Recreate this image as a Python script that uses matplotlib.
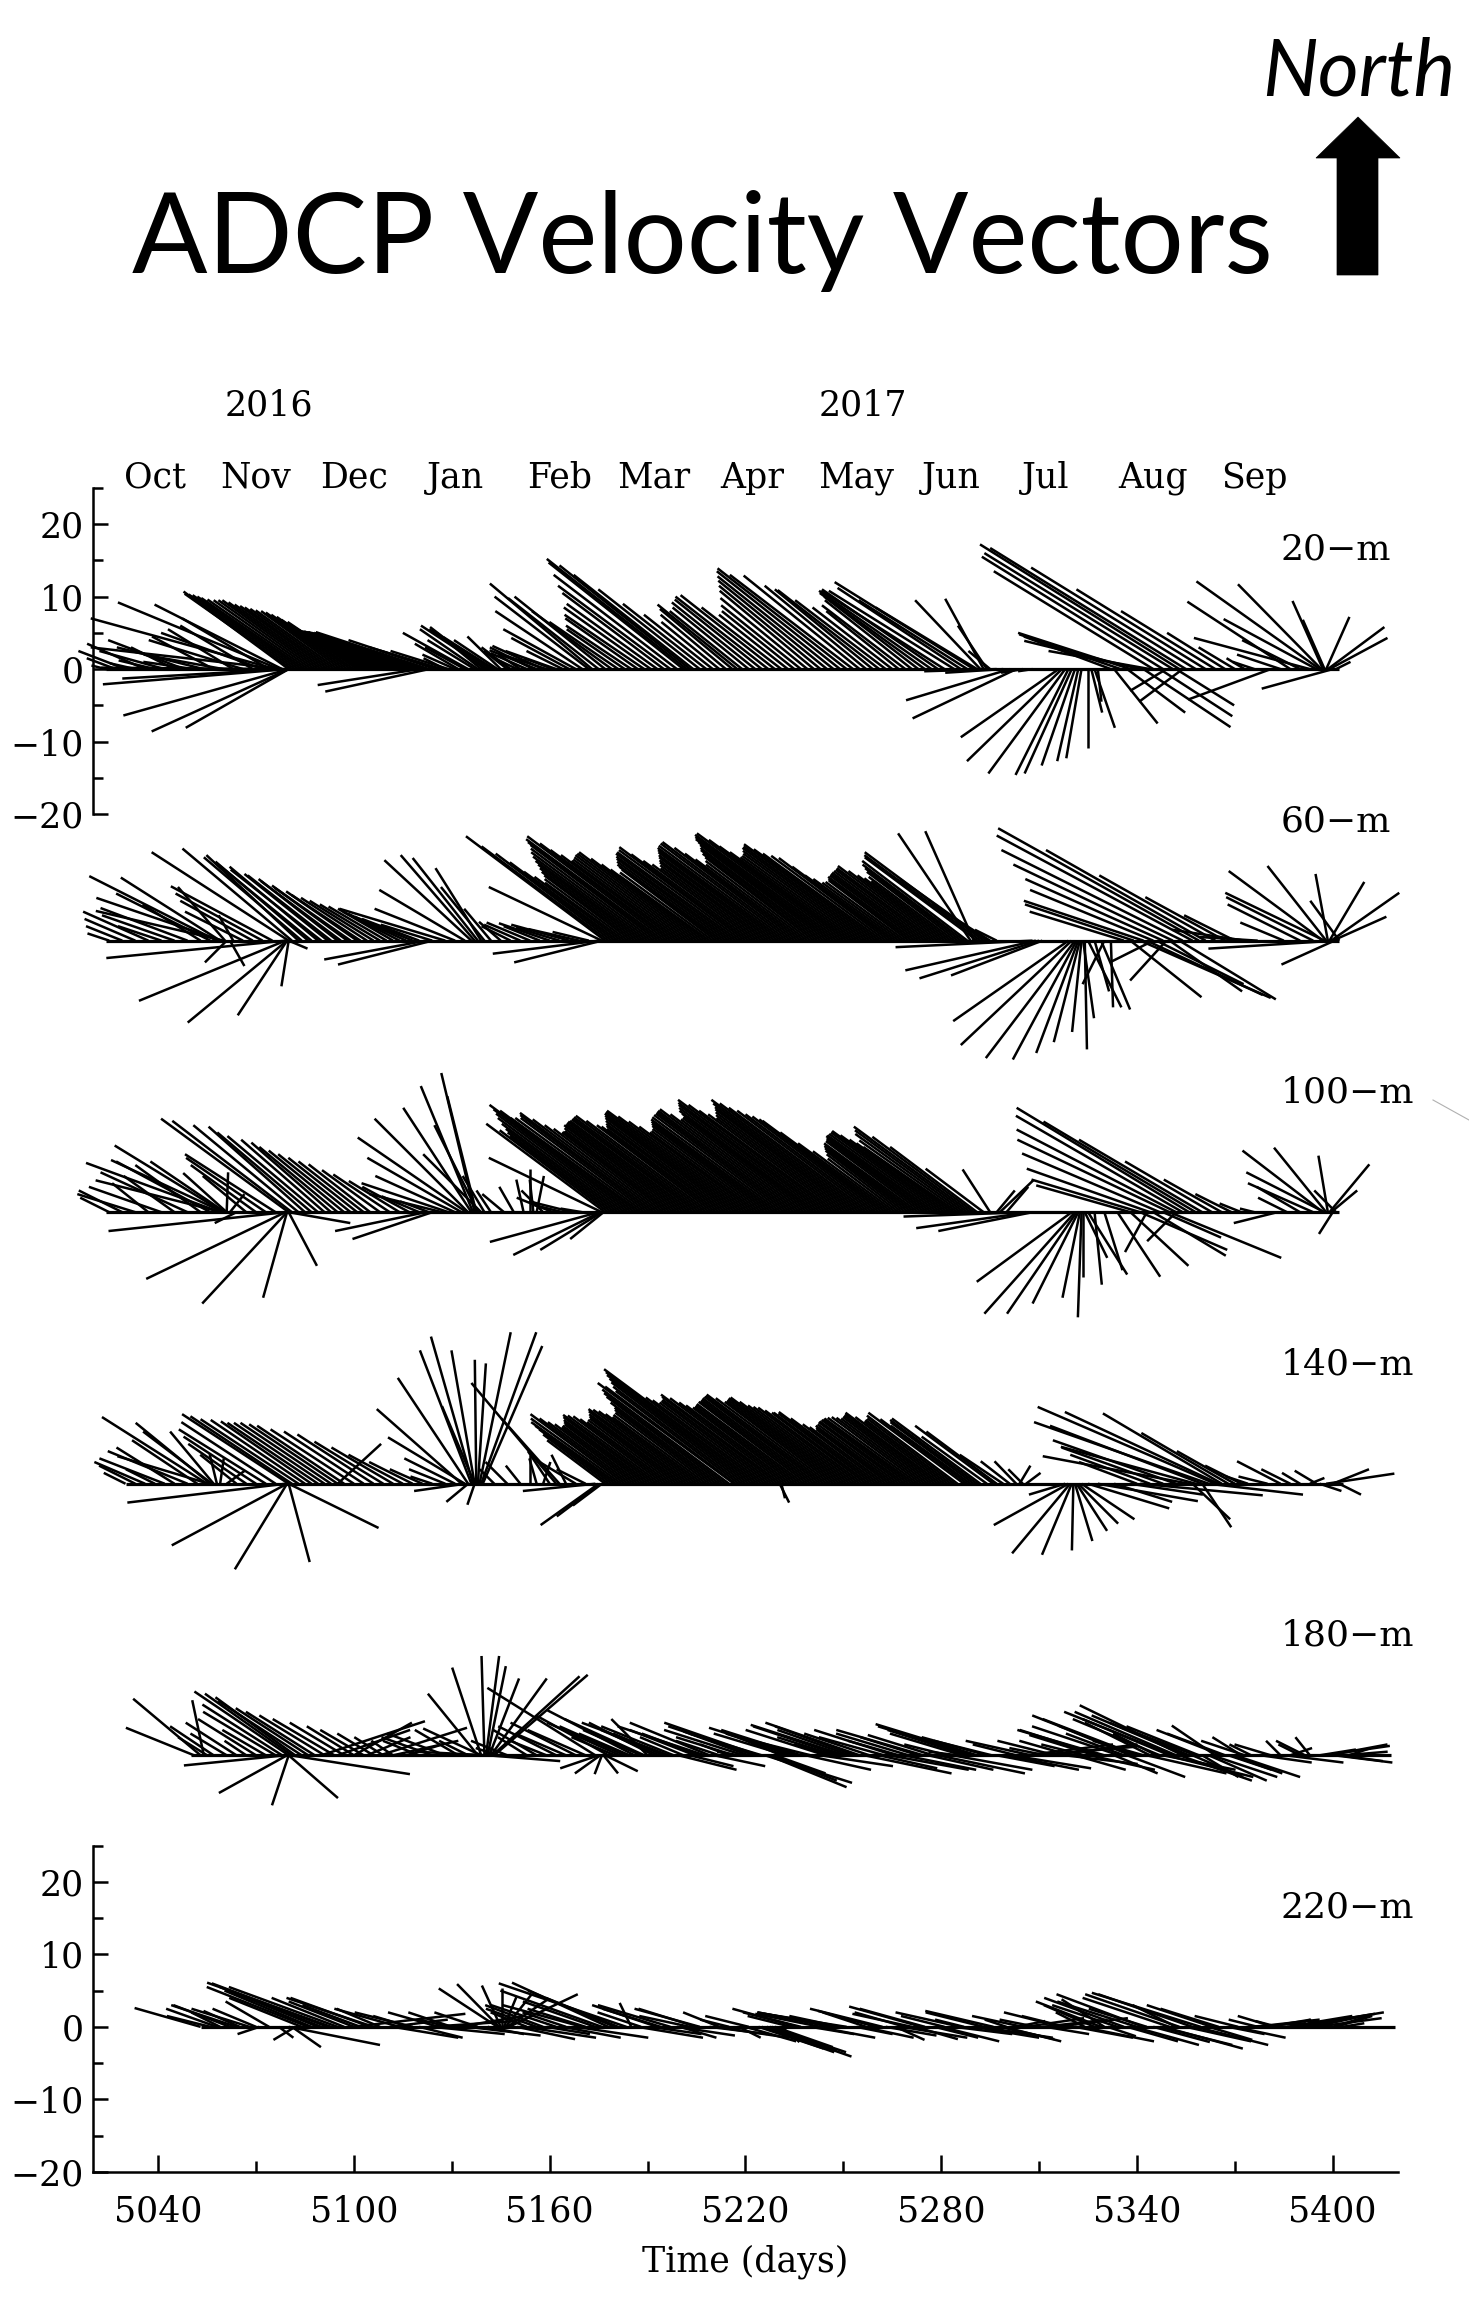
import sys
import matplotlib
matplotlib.use('Agg')
import matplotlib.pyplot as plt
from matplotlib.collections import LineCollection
from matplotlib.patches import Polygon
from matplotlib.lines import Line2D

plt.rcParams['font.family'] = ['DejaVu Serif']

# ---------------- data: stick origins (days) and velocity components (cm/s) ----------------
T20 = [5024, 5027, 5030, 5033, 5036, 5039, 5042, 5045, 5048, 5051,
       5054, 5057, 5060, 5063, 5066, 5069, 5072, 5074,
       5076, 5077, 5078, 5078, 5079, 5079, 5079.5, 5080, 5080, 5080,
       5080, 5081, 5083, 5085, 5087, 5089, 5091, 5093, 5095, 5097,
       5099, 5101, 5103, 5105, 5107, 5109, 5111, 5113, 5115, 5117,
       5119, 5121, 5123, 5125, 5126, 5120, 5123,
       5128, 5131, 5134, 5137, 5139, 5141, 5143, 5145, 5147, 5150,
       5153, 5156, 5159, 5162,
       5164, 5166, 5168, 5170, 5172, 5173, 5175, 5177, 5179, 5181,
       5183, 5185, 5187, 5189, 5191, 5193, 5195, 5197, 5199, 5201,
       5202, 5203, 5204, 5206, 5208, 5210, 5212, 5214, 5216, 5217.5,
       5219, 5221, 5223, 5225, 5227, 5229, 5231, 5233, 5235, 5237,
       5239, 5241, 5243, 5245, 5247, 5249, 5251, 5253, 5255, 5257,
       5259, 5261, 5263, 5265, 5267, 5269, 5271, 5273, 5275, 5277,
       5279, 5281, 5284, 5286, 5288, 5290, 5291, 5292, 5293, 5294,
       5295,
       5297, 5299, 5301, 5303, 5305, 5308,
       5316, 5317, 5318, 5319, 5320, 5321, 5322, 5323, 5325, 5326, 5327, 5328,
       5332, 5335, 5338, 5341, 5344,
       5333, 5337, 5342, 5347, 5352, 5349, 5354,
       5345, 5348, 5351, 5353, 5355, 5358, 5361, 5364, 5367, 5370, 5373, 5376,
       5381, 5384, 5387, 5390, 5393, 5395, 5396, 5396.5, 5397, 5397.5, 5398, 5398.5, 5399, 5400, 5401,
       5082, 5084, 5086, 5088, 5090, 5092, 5094, 5096, 5098,
       5100, 5102, 5104, 5106, 5108, 5110, 5112, 5114, 5116, 5118, 5120, 5122,
       5127, 5129, 5132, 5135, 5138, 5140, 5142, 5144, 5148, 5151, 5155, 5158, 5161]
U20 = [-2, -4, -6.5, -3.5, -8, -5, -9, -6, -10.5, -7,
       -12, -8.5, -11, -9, -13, -10, -14, -12,
       -25.5, -22.2, -17.6, -26.4, -25.4, -22.5, -25.4, -22.8, -18.9, -14.2,
       -14.5, -14.8, -14.6, -14.3, -13.5, -13.2, -12.4, -11.9, -11.3, -10.8,
       -10.2, -9.6, -10.0, -10.5, -11.2, -11.8, -12.5, -13.0, -13.6, -14.2,
       -14.8, -15.3, -15.6, -12.0, -8.0, -14.0, -14.3,
       -3, -4.5, -5.5, -6.5, -6.1, -9.2, -7, -4.6, -3.2, -2.5,
       -5, -6.5, -5.5, -7,
       -5, -8, -10, -12, -13, -14.1, -12.5, -12.5, -11, -9.5,
       -8, -9, -10, -11, -12, -12.5, -14, -15.5, -17, -18.6,
       -19.3, -18, -16.5, -14, -11.5, -9.5, -8, -9, -10, -11,
       -10, -10.5, -11.5, -12, -12.8, -13, -11, -9.5, -10, -11,
       -12, -13, -14, -15, -16, -17, -17.8, -17, -16, -14,
       -13.5, -14, -12.5, -11, -10, -11.5, -12, -13, -14.5, -15.5,
       -16, -17, -17.3, -17, -15, -19.2, -14, -9, -5.3, -4,
       -3,
       -10, -8, -14.3, -14.3, -3, -2,
       -13.5, -13.1, -10.6, -7.3, -6.5, -4.6, -2.9, -2.1, 0.0, 1.5, 2.8, 0.5,
       -12, -14, -15.5, -16, -14,
       6, 8, 12, 10, 8, -5, -6,
       -22, -25, -26, -27.5, -27, -22.7, -17.8, -13, -8, -5, -2.5, -3,
       -11.4, -6, -14.2, -8, -16, -12.8, -17, -11.5, -4.2, -3, 3.2, 7.8, 8, -9.8, 2,
       -14.7, -14.4, -13.9, -13.3, -12.8, -12.1, -11.6, -11.0, -10.5,
       -10.0, -9.8, -10.2, -10.8, -11.5, -12.2, -12.8, -13.3, -14.0, -14.5, -15.0, -15.4,
       -10, -8, -6, -9, -8, -7.5, -8.5, -6, -4, -3, -6, -7, -4]
V20 = [0.5, 1.5, 2.5, 0.8, 3.5, 1.2, 2.5, 3.0, 4.0, 1.0,
       3.0, 4.5, 2.0, 5.5, 4.0, 6.0, 5.0, 7.0,
       7.0, 9.2, 8.9, 3.0, 0.2, -1.3, -2.1, -6.4, -8.6, -8.1,
       10.7, 10.4, 10.2, 9.8, 9.5, 9.5, 8.9, 8.5, 8.1, 7.8,
       7.2, 6.5, 5.9, 5.6, 5.5, 5.4, 5.3, 5.2, 5.2, 5.1,
       5.1, 5.0, 5.1, 4.0, 2.5, -2.2, -3.1,
       1.5, 2.0, 3.0, 4.0, 5.0, 6.0, 4.4, 4.5, 2.5, 1.2,
       2.2, 2.6, 1.8, 2.5,
       2.5, 4.3, 5.5, 8.0, 10.0, 11.8, 9.8, 10.0, 8.0, 6.5,
       5.5, 6.0, 7.0, 7.5, 8.5, 9.0, 10.5, 11.5, 13.0, 14.7,
       15.2, 14.3, 13.0, 11.0, 9.0, 7.5, 6.5, 7.5, 8.3, 8.9,
       8.0, 8.5, 9.2, 9.6, 10.0, 10.2, 8.5, 7.5, 8.0, 8.8,
       9.8, 10.8, 11.5, 12.2, 12.8, 13.5, 13.9, 13.0, 12.9, 11.5,
       11.0, 10.9, 9.5, 8.5, 8.0, 8.8, 9.5, 10.0, 10.5, 10.8,
       11.0, 10.8, 10.8, 11.2, 9.5, 12.0, 8.5, 9.5, 9.7, 6.0,
       2.5,
       -0.3, -0.5, -4.3, -6.8, -0.5, -0.3,
       -9.4, -12.7, -14.4, -14.6, -14.4, -13.3, -12.7, -12.3, -10.9, -6.0, -8.1, -4.5,
       4.5, 4.8, 5.0, 3.9, 2.5,
       -7.5, -6, -8, -6.5, -5, -3, -4.5,
       13.5, 15.5, 16.0, 17.2, 16.7, 14.0, 11.0, 8.0, 5.0, 3.0, 1.5, 1.0,
       -4.2, 2.0, 9.3, 4.0, 4.3, 6.9, 12.1, 11.7, 9.4, 6.8, 7.2, 5.8, 4.3, -2.7, 1.0,
       10.3, 10.0, 9.6, 9.5, 9.2, 8.7, 8.3, 8.0, 7.5,
       6.8, 6.2, 5.8, 5.5, 5.4, 5.3, 5.2, 5.2, 5.1, 5.1, 5.0, 5.0,
       3.0, 2.5, 3.5, 5.0, 5.5, 5.8, 5.5, 4.0, 3.0, 2.0, 3.0, 3.2, 1.5]

T60 = [5025, 5029, 5033, 5037, 5041, 5045, 5049, 5053, 5056, 5058, 5059, 5059.5, 5060, 5060.5, 5061, 5062, 5063, 5066, 5069, 5072, 5075,
       5079, 5079, 5079.5, 5079.5, 5080, 5080, 5080,
       5081, 5083, 5086, 5089, 5092, 5095, 5098, 5101, 5104, 5108, 5112, 5116, 5120, 5124, 5122, 5124,
       5084, 5087, 5090, 5093, 5096, 5099, 5102, 5106, 5110, 5114, 5118,
       5128, 5131, 5134, 5136, 5137, 5138, 5139, 5140, 5142, 5145, 5148, 5151, 5154, 5157, 5160, 5163, 5166, 5169, 5172, 5175, 5176,
       5176, 5177, 5179, 5181, 5183, 5185, 5187, 5189, 5191, 5193,
       5195, 5196, 5198, 5200, 5202, 5204, 5205, 5207, 5209, 5211,
       5213, 5215, 5217, 5219, 5220, 5222, 5224, 5226, 5228, 5230,
       5232, 5234, 5235, 5237, 5239, 5241, 5243, 5245, 5247, 5249,
       5250, 5252, 5254, 5256, 5258, 5260, 5262, 5264, 5266, 5268,
       5270, 5272, 5274, 5276, 5278, 5279, 5281, 5283, 5285, 5287,
       5289, 5290, 5291, 5293, 5295, 5297,
       5308, 5309, 5310, 5311,
       5319, 5320, 5321, 5321.5, 5322, 5322.5, 5323, 5323.5, 5324, 5325, 5327, 5329, 5330, 5332,
       5338, 5341, 5343, 5346, 5350, 5353, 5345, 5349,
       5336, 5339, 5342, 5345, 5348, 5351, 5354, 5357, 5359, 5361, 5364, 5367, 5370, 5373, 5377,
       5385, 5390, 5394, 5397, 5397.5, 5398, 5398.5, 5399, 5399.5, 5400, 5400.5, 5401, 5402,
       5178, 5180, 5182, 5184, 5186, 5188, 5190, 5192, 5194, 5197,
       5199, 5201, 5203, 5206, 5208, 5210, 5212, 5214, 5216, 5218,
       5221, 5223, 5225, 5227, 5229, 5231, 5233, 5236, 5238, 5240,
       5242, 5244, 5246, 5248, 5251, 5253, 5255, 5257, 5259, 5261,
       5263, 5265, 5267, 5269, 5271, 5273, 5275, 5277, 5280, 5282,
       5284, 5286, 5288, 5292, 5294]
U60 = [-3, -5, -7, -9, -6, -10, -12, -8, -13, -17.6, -13.7, -17.3, -17.6, -6.5, -3, 2, -2, -8, -10, -12, -14,
       -24.7, -20.2, -13.7, -6.8, -1.0, 2.6, -18.9,
       -15.1, -12.7, -12.8, -12.2, -11.5, -10.9, -10.4, -9.8, -9.1, -8.3, -7.6, -8.0, -7.9, -7.1, -14.0, -13.0,
       -13.5, -13.0, -12.5, -11.5, -11.0, -10.5, -9.5, -8.8, -8.0, -7.8, -8.0,
       -14.6, -11.1, -11.8, -12.0, -10.2, -9.0, -6.3, -6.0, -3.7, -3.0, -4.0, -5.0, -6.0, -5.0, -7.0, -6.0, -8.0, -7.0, -5.0, -14.6, -12.1,
       -15.6, -19.2, -16.0, -13.0, -11.0, -12.0, -13.5, -15.0, -16.5, -17.5,
       -19.0, -19.3, -17.0, -15.0, -15.5, -16.0, -16.2, -14.0, -12.5, -13.0,
       -14.5, -15.5, -16.5, -17.0, -17.4, -15.0, -13.5, -14.5, -15.5, -16.5,
       -17.5, -18.0, -18.2, -16.0, -14.0, -15.0, -16.5, -17.5, -19.0, -20.0,
       -20.2, -18.0, -16.0, -16.5, -17.5, -18.2, -16.5, -15.2, -12.5, -11.0,
       -11.0, -12.0, -12.5, -13.0, -13.5, -13.8, -12.0, -11.0, -12.5, -14.0,
       -10.0, -6.7, -15.5, -16.4, -8.0, -3.0,
       -18.9, -18.0, -16.5, -12.6,
       -15.9, -15.3, -12.3, -8.8, -5.8, -3.6, -1.3, 1.5, 0.3, 4.6, 2.0, 4.0, -3.0, 0.3,
       9.8, 18.0, 16.0, 12.0, 10.0, 13.3, -6.0, -5.0,
       -13, -15, -16.5, -17, -19, -22, -25, -27, -27.7, -22, -16, -11, -7, -10, -8,
       -6, -10, -12, -13, -13.7, -8.1, -1.7, 4.8, 9.4, 7.4, -7.3, -17.6, -4,
       -17.5, -14.5, -12.0, -11.5, -12.8, -14.2, -15.8, -17.0, -18.3, -18.0,
       -16.0, -15.2, -15.8, -15.0, -13.2, -12.8, -13.8, -15.0, -16.0, -16.8,
       -16.2, -14.2, -14.0, -15.0, -16.0, -17.0, -17.8, -17.0, -15.0, -14.5,
       -15.8, -17.0, -18.2, -19.5, -19.0, -17.0, -16.2, -17.0, -17.8, -17.3,
       -15.8, -13.8, -11.8, -11.0, -11.5, -12.2, -12.8, -13.2, -12.8, -11.5,
       -11.8, -13.2, -14.5, -16.0, -12.0]
V60 = [1.0, 2.0, 3.0, 4.0, 2.0, 3.5, 4.5, 5.0, 6.5, 8.9, 8.7, 5.9, 4.1, 7.4, -3.0, -3.5, 3.5, 4.0, 5.5, 6.5, 7.5,
       -2.4, -8.3, -11.3, -10.3, -6.3, -1.1, 12.2,
       12.7, 11.8, 10.9, 10.2, 9.2, 8.5, 7.6, 6.8, 5.9, 5.0, 4.4, 3.7, 3.0, 2.2, -2.6, -3.3,
       11.5, 10.6, 9.8, 9.0, 8.2, 7.3, 6.3, 5.5, 4.7, 4.0, 3.3,
       4.4, 4.4, 7.0, 11.1, 11.8, 11.4, 10.0, 7.4, 4.4, 2.6, 2.0, 2.2, 2.5, 2.0, 2.4, 1.8, 2.2, 1.6, 1.2, -1.8, -3.0,
       7.4, 14.4, 12.0, 9.5, 8.0, 9.0, 10.0, 11.0, 12.2, 13.2,
       14.0, 14.4, 12.5, 11.0, 11.5, 12.0, 12.2, 10.5, 9.0, 9.8,
       10.5, 11.3, 12.0, 12.5, 12.9, 11.0, 10.0, 10.8, 11.5, 12.2,
       12.8, 13.4, 13.6, 12.0, 10.5, 11.5, 12.5, 13.2, 14.0, 14.6,
       14.8, 13.0, 11.5, 12.0, 12.8, 13.3, 12.0, 11.4, 9.0, 8.0,
       8.3, 8.8, 9.2, 9.6, 10.0, 10.3, 9.0, 8.2, 9.5, 10.5,
       14.8, 15.1, 11.5, 12.2, 5.0, 1.5,
       -0.9, -4.1, -5.2, -4.8,
       -11.1, -14.4, -16.2, -16.4, -15.5, -14.0, -12.6, -10.7, -15.0, -9.2, -7.0, -9.5, -6.0, -9.2,
       -7.8, -7.9, -7.5, -6.0, -7.0, -8.1, -3.0, -5.5,
       4.0, 5.0, 5.5, 7.0, 8.5, 10.5, 12.5, 14.5, 15.5, 12.5, 9.0, 6.0, 3.5, 1.5, 0.5,
       2.5, 5.0, 6.0, 9.6, 6.6, 10.3, 9.2, 8.1, 6.6, 3.3, -3.3, -1.1, 5.5,
       13.0, 10.8, 8.8, 8.5, 9.5, 10.5, 11.6, 12.7, 13.6, 13.4,
       11.8, 11.2, 11.8, 11.3, 9.8, 9.4, 10.2, 10.9, 11.6, 12.2,
       11.9, 10.5, 10.4, 11.1, 11.8, 12.5, 13.1, 12.8, 11.2, 11.0,
       12.0, 12.8, 13.6, 14.3, 13.9, 12.2, 11.7, 12.4, 13.0, 12.6,
       11.7, 10.2, 8.5, 8.1, 8.5, 9.0, 9.4, 9.8, 9.6, 8.6,
       8.8, 10.0, 11.0, 11.8, 8.5]

T100 = [5025, 5029, 5033, 5037, 5041, 5045, 5049, 5053, 5056, 5059, 5059.5, 5060, 5060, 5060.5, 5061, 5061, 5062, 5064, 5067, 5070, 5073, 5076,
        5079, 5079, 5079.5, 5079.5, 5080, 5080,
        5080, 5081, 5083, 5085, 5087, 5089, 5091, 5093, 5095, 5097, 5099, 5101, 5103, 5105, 5108, 5111, 5114, 5117, 5120, 5123, 5122, 5124,
        5127, 5129, 5131, 5133, 5134.5, 5135, 5136, 5136.5, 5137, 5137.5, 5138, 5139, 5140, 5142,
        5146, 5149, 5152, 5154, 5155, 5156, 5158, 5161, 5164, 5167, 5170,
        5175, 5175.5, 5176, 5176.5,
        5176, 5177, 5179, 5181, 5183, 5185, 5186, 5188, 5190, 5192,
        5194, 5196, 5198, 5200, 5202, 5204, 5206, 5208, 5210, 5212,
        5214, 5216, 5218, 5220, 5222, 5224, 5226, 5228, 5230, 5232,
        5234, 5236, 5238, 5240, 5242, 5244, 5246, 5248, 5250, 5252,
        5254, 5256, 5258, 5260, 5262, 5263, 5265, 5267, 5269, 5271,
        5273, 5275, 5277, 5279, 5281, 5283, 5285, 5287, 5289, 5291,
        5293, 5295, 5297, 5298, 5300,
        5306, 5307, 5308,
        5320, 5321, 5321.5, 5322, 5322.5, 5323, 5323.5, 5324, 5325, 5327, 5330,
        5334, 5338, 5341, 5345, 5348, 5350, 5343, 5352,
        5338, 5341, 5344, 5347, 5350, 5352, 5354, 5356, 5358, 5360, 5363, 5366, 5369, 5372, 5376,
        5383, 5386, 5390, 5394, 5397, 5397.5, 5398, 5398.5, 5399, 5399.5, 5400, 5401,
        5178, 5180, 5182, 5184, 5187, 5189, 5191, 5193, 5195, 5197,
        5199, 5201, 5203, 5205, 5207, 5209, 5211, 5213, 5215, 5217,
        5219, 5221, 5223, 5225, 5227, 5229, 5231, 5233, 5235, 5237,
        5239, 5241, 5243, 5245, 5247, 5249, 5251, 5253, 5255, 5257,
        5259, 5261, 5264, 5266, 5268, 5270, 5272, 5274, 5276, 5278,
        5280, 5282, 5284, 5286, 5288, 5290]
U100 = [-4, -6, -8, -5, -10, -7, -12, -9, -13, -18.5, -17.4, -15, -15.5, -10.3, -6, 0.2, 2, -3, -6, -9, -11, -12.5,
        -24.4, -19.2, -11.7, -3.3, 3.9, 8.5,
        -17.6, -16.5, -14.5, -13.3, -13.0, -12.5, -11.5, -11.0, -10.8, -10.4, -10.0, -9.5, -9.0, -8.5, -8.0, -7.8, -7.0, -6.5, -5.2, -4.0, -12.5, -11.0,
        -10, -12, -11, -13, -15, -12.9, -9.4, -7.2, -4.6, -4.0, -6.0, -8.0, -3.0, -2.0,
        -3, -2, -1, 0, -0.5, 1, -3, -5, -4, -6, -3,
        -15, -12, -8.5, -4.6,
        -15.6, -16.4, -14.0, -15.5, -17.5, -19.0, -20.0, -18.0, -17.5, -18.5,
        -16.0, -14.5, -15.0, -16.0, -16.5, -17.0, -17.5, -18.0, -16.0, -15.5,
        -16.5, -17.5, -18.5, -19.1, -17.0, -15.0, -15.5, -16.5, -17.5, -18.0,
        -18.5, -19.0, -17.0, -17.5, -19.0, -20.0, -21.0, -19.0, -17.5, -18.5,
        -19.5, -20.9, -19.4, -18.0, -17.0, -17.0, -13.0, -9.8, -11.0, -12.0,
        -13.0, -13.5, -14.5, -15.0, -15.5, -14.0, -13.0, -15.0, -16.1, -12.0,
        -8.0, -3.8, 2.5, 4.6, 3.0,
        -16.9, -15.6, -13.0,
        -13.1, -12.5, -9.6, -6.3, -2.4, -0.5, 0.0, 3.1, 5.4, 1.0, 2.5,
        5.9, 8.0, 12.0, 10.0, 8.0, 15.4, -3.0, -4.0,
        -13, -15, -17, -19, -21, -22, -23, -23.8, -21, -17, -12, -8, -5, -3, -2,
        -6, -4, -6, -9, -11.1, -10.8, -7.2, -1.3, 5.5, 3.6, -1.9, -3,
        -15.0, -14.8, -16.5, -18.2, -19.0, -17.8, -18.0, -17.2, -15.2, -14.8,
        -15.5, -16.2, -16.8, -17.2, -17.8, -17.0, -15.8, -16.0, -17.0, -18.0,
        -18.8, -18.0, -16.0, -15.2, -16.0, -17.0, -17.8, -18.2, -18.8, -18.0,
        -17.2, -18.2, -19.5, -20.5, -20.0, -18.2, -18.0, -19.0, -20.2, -20.2,
        -18.7, -17.5, -15.0, -11.4, -10.4, -11.5, -12.5, -13.2, -14.0, -14.8,
        -15.2, -14.8, -13.5, -14.0, -15.5, -14.0]
V100 = [2.0, 3.0, 2.5, 4.0, 3.5, 5.0, 5.5, 6.5, 7.0, 6.8, 4.4, 9.2, 7.2, 7.0, 5.4, 5.5, 2.5, -1.5, 5.0, 6.5, 7.5, 8.0,
        -2.6, -9.2, -12.6, -11.8, -7.4, -1.5,
        12.9, 12.6, 12.0, 11.8, 11.0, 10.5, 10.0, 9.6, 9.0, 8.5, 8.0, 7.5, 7.0, 6.6, 5.8, 5.2, 4.3, 3.5, 2.2, 1.5, -2.6, -3.7,
        2.5, 4.0, 5.0, 7.5, 10.3, 12.9, 14.4, 17.4, 19.2, 16.0, 12.0, 8.0, 5.0, 3.0,
        2.5, 3.5, 4.5, 5.9, 4.5, 5.0, 3.0, 2.0, 1.0, 1.5, 0.5,
        -4.1, -5.9, -5.2, -3.7,
        7.5, 12.2, 10.5, 11.5, 13.0, 14.2, 14.8, 13.0, 13.0, 13.7,
        12.0, 11.0, 11.2, 12.0, 12.3, 12.6, 12.9, 13.3, 12.0, 11.5,
        12.2, 13.0, 13.6, 14.0, 12.5, 11.0, 11.5, 12.2, 12.8, 13.4,
        13.8, 14.2, 12.8, 13.2, 14.0, 14.8, 15.5, 14.0, 13.0, 13.8,
        14.5, 15.5, 14.4, 13.5, 12.8, 12.6, 9.5, 7.4, 8.5, 9.0,
        9.5, 10.0, 10.5, 10.8, 11.2, 10.0, 9.0, 10.8, 11.8, 9.0,
        6.0, 5.9, 3.0, 4.4, 3.5,
        -0.6, -2.2, -2.6,
        -9.6, -14.0, -14.0, -12.6, -11.8, -14.5, -8.9, -6.3, -8.6, -10.0, -8.0,
        -8.9, -7.4, -5.2, -6.0, -3.5, -6.3, -5.5, -4.0,
        3.7, 4.5, 6.0, 8.1, 10.0, 11.4, 13.3, 14.4, 12.5, 10.0, 7.0, 4.5, 2.5, 1.2, 0.5,
        -1.5, 2.0, 3.5, 4.0, 8.5, 5.5, 8.9, 7.8, 6.6, 3.0, -3.0, 3.0,
        11.3, 11.0, 12.2, 13.6, 14.0, 13.0, 13.4, 12.8, 11.5, 11.1,
        11.6, 12.1, 12.5, 12.8, 13.1, 12.6, 11.8, 11.9, 12.6, 13.3,
        13.8, 13.2, 11.8, 11.2, 11.9, 12.5, 13.1, 13.6, 14.0, 13.5,
        13.0, 13.6, 14.4, 15.1, 14.8, 13.5, 13.4, 14.2, 15.0, 15.0,
        14.0, 13.2, 11.0, 8.4, 8.0, 8.8, 9.2, 9.8, 10.2, 10.6,
        11.0, 10.6, 9.5, 9.9, 11.3, 10.4]

T140 = [5030, 5033, 5036, 5039, 5042, 5045, 5049, 5052, 5055, 5055.5, 5056, 5056.5, 5057, 5058, 5059, 5061, 5064, 5067, 5070, 5073, 5076,
        5079, 5079.5, 5079.5, 5080, 5080, 5080,
        5081, 5083, 5085, 5087, 5089, 5091, 5093, 5095, 5097, 5100, 5103, 5106, 5109, 5112, 5115, 5118, 5121, 5124, 5095,
        5128, 5131, 5133, 5134, 5135, 5136, 5136.5, 5137, 5137.5, 5138, 5138.5, 5139, 5139.5, 5137, 5135, 5137, 5134,
        5143, 5147, 5151, 5154, 5156, 5158, 5160, 5162, 5163, 5165, 5168, 5171,
        5174, 5175, 5175.5, 5176,
        5177, 5179, 5181, 5183, 5185, 5187, 5189, 5191, 5193, 5195,
        5197, 5199, 5201, 5203, 5205, 5207, 5209, 5211, 5213, 5215,
        5216.5, 5218, 5220, 5222, 5224, 5225, 5227, 5229, 5231, 5233,
        5235, 5237, 5239, 5241, 5243, 5245, 5247, 5249, 5251, 5253,
        5255, 5257, 5260, 5262, 5264, 5266, 5268, 5270, 5272, 5274,
        5276, 5278, 5280, 5282, 5284, 5287, 5289, 5292, 5294, 5296,
        5297, 5299, 5301, 5303, 5305, 5304, 5306, 5230.5, 5231,
        5318, 5319, 5319.5, 5320, 5320.5, 5321, 5321.5, 5322, 5323, 5325, 5328, 5333, 5338,
        5340, 5344, 5348, 5352, 5356, 5358, 5360, 5362, 5364, 5365, 5366, 5368, 5370, 5372, 5374, 5357, 5360, 5362, 5341,
        5380, 5384, 5387, 5390, 5393, 5395, 5396, 5398, 5400, 5402,
        5178, 5180, 5182, 5184, 5186, 5188, 5190, 5192, 5194, 5196,
        5198, 5200, 5202, 5204, 5206, 5208, 5210, 5212, 5214, 5217,
        5219, 5221, 5223, 5226, 5228, 5230, 5232, 5234, 5236, 5238,
        5240, 5242, 5244, 5246, 5248, 5250, 5252, 5254, 5256, 5258,
        5259, 5261, 5263, 5265, 5267, 5269, 5271, 5273, 5275, 5277,
        5279, 5281, 5283, 5285, 5288, 5290, 5291]
U140 = [-3, -5, -7, -4, -9, -8, -11, -9, -14.5, -12.6, -10.3, -9.5, -6, -1, 0.5, 2.5, -5, -8, -10, -12, -13,
        -21.8, -15.9, -7.2, 2.9, 12.4, -14.7,
        -14, -13.5, -13, -12.5, -12.5, -12.5, -12.5, -12.2, -12, -11.5, -11, -10.5, -9.5, -8.5, -7.5, -6, -4.5, -3, 6,
        -5, -7, -11.7, -10.6, -9.7, -7.1, -5.8, -3.2, -0.2, 1.1, 4.3, 7.6, 8.2, -4.5, -3, -1, -7,
        -2, -3, -2, 0, -1, 1, -3, -11.7, -8, -2, -5, -4,
        -10, -8, -6, -4,
        -8, -10, -12, -13, -11.5, -10.5, -11, -12, -13, -12.5,
        -11.5, -12, -13, -14, -13.5, -12.5, -13, -14, -16, -17.5,
        -18.8, -17, -18.5, -20, -21.3, -16, -15, -15.5, -16.6, -15,
        -14, -14.5, -15, -15.5, -16, -16.6, -15, -15.5, -16, -14.5,
        -14, -13, -13.4, -11, -10, -11, -11.5, -12, -12.5, -12.4,
        -12, -12.5, -13.2, -11.5, -12, -13.2, -11, -12.2, -9, -10.8,
        -9.7, -6, -4, -3, -2, 1.5, 2, 1.3, 0.5,
        -5, -10.3, -8, -4.1, -0.2, 2.4, 4.2, 5.5, 7.3, 11.2, 13.8, 8, 10,
        -8, -11, -14, -17, -20.2, -18.6, -21, -24.1, -24.5, -21.2, -16.4, -12, -8, -5, -3, 5.2, 4, 13, 16.9,
        -4, -6, -4, -2.5, 2, -3, 3, 9.4, 5, 3,
        -9.0, -11.0, -12.5, -12.2, -11.0, -10.8, -11.5, -12.5, -12.8, -12.0,
        -11.8, -12.5, -13.5, -13.8, -13.0, -12.8, -13.5, -15.0, -16.8, -18.0,
        -17.8, -19.2, -20.6, -15.5, -15.2, -16.0, -15.8, -14.5, -14.2, -14.8,
        -15.2, -15.8, -16.3, -15.8, -15.2, -15.8, -15.2, -14.2, -13.5, -13.2,
        -13.0, -12.2, -10.5, -10.5, -11.2, -11.8, -12.2, -12.5, -12.2, -12.2,
        -12.8, -12.3, -11.8, -12.5, -12.0, -11.5, -12.0]
V140 = [1.5, 2.5, 3.0, 2.0, 3.5, 5.0, 4.5, 6.0, 9.2, 3.8, 8.4, 7.2, 7.2, 4.1, 3.5, 1.8, 4.0, 5.5, 6.5, 7.5, 8.5,
        -2.6, -8.5, -11.8, -10.8, -6.1, 9.6,
        9.3, 8.9, 8.8, 8.6, 8.4, 8.4, 8.4, 8.2, 8.0, 7.5, 7.2, 6.8, 5.8, 5.0, 4.0, 3.0, 2.0, 1.0, 5.5,
        2.0, 3.5, 10.3, 6.4, 14.6, 18.4, 20.3, 18.4, 17.1, 16.6, 20.9, 20.9, 19.0, 10.7, -2.5, -2.9, -1.0,
        2.0, 3.0, 2.5, 4.0, 3.5, 3.0, 4.5, 13.9, 9.0, 4.0, 3.0, 2.0,
        -1.0, -5.7, -4.5, -3.0,
        6.0, 7.5, 8.5, 9.6, 8.5, 7.8, 8.2, 8.8, 9.5, 9.3,
        8.5, 9.0, 9.6, 10.3, 10.0, 9.2, 9.8, 10.5, 12.0, 13.0,
        13.9, 12.8, 14.0, 15.0, 15.8, 11.9, 11.2, 11.6, 12.3, 11.2,
        10.5, 10.8, 11.3, 11.6, 12.0, 12.3, 11.3, 11.6, 11.9, 10.8,
        10.5, 9.8, 9.9, 8.2, 7.5, 8.0, 8.5, 8.8, 9.0, 9.2,
        9.0, 9.4, 9.8, 8.6, 9.0, 9.8, 8.0, 9.0, 6.5, 8.0,
        7.2, 4.0, 3.1, 3.1, 2.0, 2.5, 1.5, -2.6, -2.0,
        -1.5, -5.7, -9.6, -9.8, -9.2, -7.9, -6.5, -5.5, -4.9, -3.4, -2.4, -2.5, -1.5,
        3.0, 4.0, 5.0, 6.0, 3.8, 5.1, 8.0, 8.5, 10.6, 9.9, 9.7, 7.0, 4.5, 2.5, 1.0, -4.9, -6.0, -1.5, -1.6,
        1.0, 3.1, 2.0, 1.5, 0.8, 1.8, -1.0, 1.4, 2.0, -1.5,
        6.8, 8.0, 9.0, 9.0, 8.2, 8.0, 8.5, 9.2, 9.4, 8.9,
        8.8, 9.3, 10.0, 10.2, 9.6, 9.5, 10.2, 11.2, 12.5, 13.4,
        13.4, 14.5, 15.4, 11.5, 11.4, 12.0, 11.8, 10.8, 10.6, 11.0,
        11.4, 11.8, 12.1, 11.8, 11.4, 11.8, 11.3, 10.6, 10.1, 9.8,
        9.7, 9.0, 7.8, 7.7, 8.2, 8.6, 8.9, 9.1, 9.1, 9.2,
        9.6, 9.2, 8.8, 9.4, 8.9, 8.5, 8.8]

T180 = [5051, 5053, 5054, 5055, 5057, 5061, 5064, 5067, 5070, 5073, 5076, 5078,
        5079, 5079.5, 5080, 5080, 5080.5,
        5080, 5081, 5082, 5084, 5086, 5088, 5091, 5094, 5097, 5100, 5103, 5106, 5109, 5112,
        5090, 5095, 5100, 5104, 5108, 5112, 5116, 5120, 5124, 5128, 5132, 5135,
        5138, 5139, 5140, 5140.5, 5141, 5141.5, 5142, 5142.5, 5143, 5139, 5141, 5144, 5147, 5141,
        5153, 5156, 5159, 5162, 5165, 5168, 5171, 5174, 5175, 5175.5, 5176, 5176.5, 5177, 5178,
        5180, 5183, 5186, 5188, 5190, 5192, 5195, 5198, 5201, 5203,
        5206, 5209, 5212, 5215, 5218, 5221, 5223, 5225, 5227, 5228,
        5229, 5231, 5234, 5237, 5240, 5243, 5246, 5249, 5252, 5255,
        5258, 5261, 5264, 5267, 5270, 5273, 5276, 5279, 5282, 5285,
        5288, 5291, 5294, 5297, 5300, 5303, 5306, 5309, 5312, 5315,
        5318, 5321, 5324, 5327, 5330, 5333, 5336, 5338, 5340, 5342,
        5344, 5346, 5348, 5350, 5352, 5354, 5356, 5358, 5360, 5362,
        5364, 5366, 5368, 5370, 5372, 5375, 5378, 5381, 5384, 5387,
        5390, 5393, 5396, 5399, 5402, 5405,
        5181.5, 5184.5, 5189, 5193.5, 5196.5, 5199.5, 5204.5, 5207.5, 5210.5, 5216.5,
        5219.5, 5224, 5226, 5232.5, 5235.5, 5238.5, 5244.5, 5247.5, 5250.5, 5253.5,
        5256.5, 5262.5, 5265.5, 5268.5, 5274.5, 5277.5, 5283.5, 5286.5, 5289.5, 5295.5,
        5301.5, 5307.5, 5313.5, 5319.5, 5325.5, 5328.5, 5334.5, 5337, 5339, 5343,
        5347, 5349, 5351, 5353, 5355, 5357, 5359, 5363, 5367, 5369,
        5373, 5385.5, 5391.5, 5397.5, 5400.5, 5403.5]
U180 = [-9.4, -9.3, -1.6, -4, -6, -5, -7, -3, -8, -6, -10, -11,
        -14, -9.4, -2.3, 6.8, 16.5,
        -13, -12, -11, -11.5, -10, -9.5, -9, -8.5, -7.5, -6.5, -6, -5, -4, -3,
        14.3, 10, 8, 6, 12, 9, 5, -5, -7, -8, -6, -4,
        -6.9, -4, -0.4, 1.8, 2.5, 4.1, 7.7, 12, 12.9, -8, -10, -3, -5, 10,
        -4, -6, -5, -8, -7, -9, -8, -14.9, -5.3, -3.5, -1, 2, 4.5, -10,
        -6, -9, -12, -8, -5, -9, -7, -10, -6, 6,
        -8, -11, -6, -4, -3, -9, -12, -10, 10.8, 9,
        7, -6, -9, -11, -8, 10, -5, -12, -10, -13,
        -9, 8, 11, -7, -10, -8, 9, 12, -6, -4,
        -11, -14, -9, 8, 10, -6, 12, 14, -5, -8,
        10, 7, -6, -9, -12, 6, -8, -10, -13, -7,
        -9, -6, 10, -12, -14, -14.2, -11, -8, 5, 8,
        -6, -9, 6, 9, -4, -3, 7, -5, -2, 3,
        -3, -2, 5, 8, 6, 3,
        -10, -7, -11, -8, -12, 8, -9, -12, 7, -8,
        -11, -13, 12, -10, -12, 9, -11, -8, -13, -11,
        12, -9, -11, 10, -12, -9, 11, -10, -13, -8,
        11, -9, 12, -7, 9, -11, -12, 8, -14, 11,
        -12, 12, -15, 10, -13, 7, -10, 9, -8, 7,
        -6, 8, -4, 9, 8, 6]
V180 = [3.8, 7.8, 7.6, 2.5, 4.0, 3.0, 4.5, 2.0, 5.0, 3.5, 6.0, 7.0,
        -1.4, -5.2, -6.9, -5.9, -2.6,
        8.8, 8.5, 8.0, 7.5, 6.5, 6.0, 5.5, 5.0, 4.5, 4.0, 3.5, 3.0, 2.5, 2.0,
        4.7, 3.5, 4.5, 2.5, 3.8, 2.0, 1.5, 2.0, 2.5, 3.0, 3.5, 2.0,
        8.5, 12.1, 13.7, 13.7, 12.3, 10.6, 10.6, 10.9, 11.1, 3.7, 0.5, 1.0, 2.0, -0.8,
        2.5, 3.5, 2.0, 4.0, 3.0, 4.5, 3.5, 9.3, -1.8, -2.5, -2.6, -2.5, -2.2, 5.5,
        2.5, 4.0, 6.2, 3.5, 5.0, 4.5, 3.0, 4.0, 2.5, -1.5,
        3.0, 4.5, 2.0, 1.5, 0.5, 3.3, 4.0, 3.0, -4.4, -3.5,
        -2.5, 2.5, 3.0, 3.5, 2.0, -1.5, 1.5, 4.0, 3.5, 4.5,
        3.0, -1.8, -2.0, 2.0, 3.0, 2.5, -2.0, -2.5, 1.5, 0.5,
        3.5, 4.3, 2.5, -1.5, -2.0, 1.5, 1.5, 1.2, 1.0, 2.0,
        -1.2, -2.0, 1.5, 2.8, 3.5, -2.5, 3.0, 4.1, 5.0, 2.0,
        4.5, 3.0, -2.0, 5.0, 6.0, 6.9, 4.5, 3.0, -3.0, -3.5,
        4.1, 3.5, -2.0, -3.0, 2.5, 1.5, -1.0, 1.5, 2.0, 1.0,
        1.5, 2.5, 0.8, 1.5, -0.8, 1.0,
        4.5, 3.0, 5.0, 3.5, 4.5, -2.0, 3.5, 4.0, -1.5, 2.5,
        3.5, 4.5, -3.8, 3.0, 3.8, -2.0, 3.5, 2.5, 4.2, 4.0,
        -2.5, 2.5, 3.5, -2.0, 3.5, 2.8, -2.0, 3.0, 4.0, 2.0,
        -1.8, 2.0, 1.5, 2.0, -2.0, 3.5, 4.0, -3.0, 5.5, -2.5,
        5.0, -3.0, 6.0, -3.5, 5.5, -3.0, 4.0, -3.0, 3.0, -2.5,
        2.0, -1.0, 2.0, 1.3, -1.0, 0.5]

T220 = [5053, 5056, 5059, 5062, 5065, 5068, 5071, 5074, 5077, 5080,
        5081, 5082, 5084, 5087, 5090, 5093, 5095, 5097, 5099.5, 5102,
        5105, 5108, 5111, 5114, 5117, 5120, 5123, 5126, 5129, 5132,
        5135, 5138, 5141, 5144, 5144.5, 5145, 5145.5, 5146, 5146.5, 5147,
        5147.5, 5150, 5153, 5156, 5159, 5162, 5165, 5168, 5171, 5174,
        5178, 5181, 5183.5, 5185, 5188, 5191, 5194, 5197, 5200, 5203,
        5206, 5209, 5212, 5215, 5218, 5221, 5224, 5226.5, 5227.5, 5229,
        5231, 5234, 5237, 5240, 5243, 5246, 5249, 5251, 5254, 5257,
        5260, 5263, 5266, 5269, 5271, 5272, 5275, 5278, 5281, 5284,
        5287, 5290, 5293, 5296, 5298, 5300, 5303, 5306, 5309, 5312,
        5315, 5318, 5321, 5324, 5327, 5330, 5331, 5334, 5337, 5340,
        5343, 5345, 5347, 5350, 5352, 5355, 5357, 5359.5, 5362, 5365,
        5368, 5371, 5374, 5377, 5380, 5383, 5386, 5388.5, 5391, 5394,
        5397, 5400, 5403,
        5058, 5064, 5070, 5086, 5089, 5092, 5100, 5106, 5112, 5118,
        5124, 5130, 5152, 5158, 5164, 5170, 5176, 5180, 5187, 5193,
        5199, 5205, 5211, 5220, 5225, 5228, 5236, 5242, 5248, 5256,
        5262, 5268, 5274, 5280, 5286, 5292, 5299, 5305, 5311, 5317,
        5323, 5329, 5336, 5339, 5342, 5348, 5353, 5358, 5363, 5370,
        5376, 5382, 5389, 5395, 5401]
U220 = [-9.1, -6, -4, -7.8, -5, -8, -3, -6, 2, 12.6,
        4, -3, -10, -12, -14, -17.1, -15, -10, 15.6, -8,
        -11, -6, 8, -9, -5, 6, 12, -7, -4, 9,
        10, -6, 5, -8.1, -5.8, -2.6, 0, 1.7, 3.6, 5.6,
        9.5, 8, -5, -7, 6, -9, -6, 10, -8, -10,
        -13.3, -10, -17.6, -1.6, -6, 7, -8, -10, 5, -7,
        -9, 8, -5, -4, 3, -6, 9, 11.7, 10.5, 8,
        2.5, -6, -8, 6, -9, -10, -7, -11.4, 5, -6,
        -8, 7, 4, -7, -8.2, 5.9, -9, 6, -6, 8,
        -4, 9, -8, -9.4, 7.5, -3, 4, 8, -5, 6,
        10, -6, 8, -4, -7, -5.9, 3.9, -9, 7, -11,
        -8, 7.8, 10, -12, -6, 9, -13, -15, 6, -8,
        5, -6, 8, -4, 6, -3, 9, 11, 4, 7,
        -2, 5, 3,
        -7, -9, -6, -14, -11, -16, -9, -12, 9, -8,
        10, -6, 10, -8, 8, -11, -14, -12, 9, -9,
        8, -8, 10, 7, 10, 9, -9, 8, -11, 7,
        -10, 9, -10, 8, -9, 10, 8, -7, 9, -8,
        10, -9, -11, 9, -12, 11, -13, 10, -9, 7,
        9, -5, 12, 9, 5]
V220 = [2.6, 1.5, 2.0, 3.0, 2.2, 2.5, -1.0, 3.5, -1.5, -2.5,
        -2.8, -1.8, 4.0, 5.0, 5.5, 6.1, 5.5, 4.0, 1.8, 3.0,
        4.0, 2.5, 1.0, 2.5, 1.5, -1.5, 0.8, 2.0, 1.0, 1.5,
        -1.2, 2.0, -1.0, 5.3, 5.9, 5.7, 5.3, 4.1, 4.5, 3.8,
        4.5, -1.7, 2.0, 2.5, -1.0, 3.0, 2.0, -1.5, 2.5, 3.5,
        6.1, 4.0, 6.0, 3.3, 2.0, -1.0, 2.5, 3.0, -1.5, 1.5,
        2.5, -1.0, 2.0, 1.0, -1.5, 1.5, -3.0, -4.1, -3.5, -2.8,
        -2.1, 1.5, 2.0, -1.0, 1.8, 2.0, 1.5, 1.8, -1.0, 2.0,
        2.2, -1.2, -1.8, 2.0, 1.8, -1.7, 2.5, -1.5, 1.5, -1.0,
        1.0, -1.5, 2.0, 2.2, -1.7, 1.0, 0.8, 1.2, 1.0, -1.0,
        1.2, 1.5, -1.5, 2.0, 3.0, 3.8, -1.3, 3.0, -2.0, 3.5,
        2.5, -2.1, -2.5, 4.0, 3.0, -2.0, 4.5, 4.7, -1.8, 2.5,
        -1.0, 1.5, 0.5, 1.0, 1.0, 0.8, 1.5, 1.8, 0.5, 1.5,
        1.0, 1.5, 0.5,
        2.5, 3.0, 2.5, 5.5, 4.5, 6.0, 3.5, 4.0, -1.5, 2.0,
        -1.0, 2.0, -1.5, 3.0, -1.5, 3.0, 5.0, 5.0, -1.5, 3.0,
        -1.2, 2.5, -1.5, -2.0, -3.5, -3.2, 2.5, -1.5, 2.0, -1.5,
        2.5, -1.5, 2.8, -2.0, 2.0, -1.5, -2.0, 1.5, 1.0, 2.0,
        -2.0, 3.5, 4.0, -2.5, 4.5, -3.0, 4.5, -2.5, 3.0, -1.5,
        1.0, 1.5, 2.0, 1.2, 1.5]

DEPTH_LABELS = ['20\u2212m', '60\u2212m', '100\u2212m', '140\u2212m', '180\u2212m', '220\u2212m']
BASE_START = [5024, 5024, 5024, 5030, 5050, 5053]
BASE_END = [5402, 5402, 5402, 5403, 5418, 5419]
MONTHS = ['Oct', 'Nov', 'Dec', 'Jan', 'Feb', 'Mar', 'Apr', 'May', 'Jun', 'Jul', 'Aug', 'Sep']
MONTH_POS = [5039, 5070, 5100, 5131, 5163, 5192, 5222, 5254, 5283, 5312, 5345, 5376]
YEARS = ['2016', '2017']
YEAR_POS = [5074, 5256]
XTICKS = [5040, 5100, 5160, 5220, 5280, 5340, 5400]
XMINOR = [5070, 5130, 5190, 5250, 5310, 5370]
YTICKS = [-20, -10, 0, 10, 20]
YMINOR = [-15, -5, 5, 15, 25]

# ---------------- layout ----------------
W, H = 1469, 2307
fig = plt.figure(figsize=(W / 100, H / 100), dpi=100)
XMIN, XMAX = 5020, 5420
YMIN, YMAX = -20, 25
AX_L, AX_R = 92.9, 1398.0
BASE0, STEP = 669.1, 271.55
PPU = 7.25  # pixels per cm/s

FS = 25
LW = 1.8

panels = [(T20, U20, V20), (T60, U60, V60), (T100, U100, V100),
          (T140, U140, V140), (T180, U180, V180), (T220, U220, V220)]

axes = []
for i in range(6):
    base = BASE0 + i * STEP
    top = base - YMAX * PPU
    bot = base - YMIN * PPU
    ax = fig.add_axes([AX_L / W, 1 - bot / H, (AX_R - AX_L) / W, (bot - top) / H])
    ax.set_xlim(XMIN, XMAX)
    ax.set_ylim(YMIN, YMAX)
    ax.patch.set_visible(False)
    axes.append(ax)

for i, ax in enumerate(axes):
    T, U, V = panels[i]
    if not (len(T) == len(U) == len(V)):
        print('length mismatch panel', i, len(T), len(U), len(V), file=sys.stderr)
    pos = ax.get_position()
    px_day = pos.width * W / (XMAX - XMIN)
    px_unit = pos.height * H / (YMAX - YMIN)
    K = px_unit / px_day  # days per cm/s so that angles are true
    segs = [[(t, 0.0), (t + u * K, v)] for t, u, v in zip(T, U, V)]
    lc = LineCollection(segs, colors='black', linewidths=LW, capstyle='butt', zorder=3)
    lc.set_clip_on(False)
    ax.add_collection(lc)
    ax.plot([BASE_START[i], BASE_END[i]], [0, 0], color='black', lw=2.3,
            solid_capstyle='butt', clip_on=False, zorder=3)
    ax.text(5384, 16.5, DEPTH_LABELS[i], ha='left', va='center', fontsize=26)

    if i in (0, 5):
        for s in ('top', 'right'):
            ax.spines[s].set_visible(False)
        ax.spines['left'].set_linewidth(1.8)
        ax.set_yticks(YTICKS)
        ax.set_yticks(YMINOR, minor=True)
        ax.tick_params(axis='y', which='major', direction='in', length=11, width=1.8,
                       labelsize=FS, pad=6.5)
        ax.tick_params(axis='y', which='minor', direction='in', length=7, width=1.8)
        if i == 0:
            ax.spines['bottom'].set_visible(False)
            ax.tick_params(axis='x', which='both', bottom=False, labelbottom=False)
        else:
            ax.spines['bottom'].set_linewidth(1.8)
            ax.set_xticks(XTICKS)
            ax.set_xticks(XMINOR, minor=True)
            ax.tick_params(axis='x', which='major', direction='in', length=12, width=1.8,
                           labelsize=FS, pad=16)
            ax.tick_params(axis='x', which='minor', direction='in', length=8, width=1.8)
            ax.set_xlabel('Time (days)', fontsize=FS, labelpad=11.5)
    else:
        ax.axis('off')

# month / year labels above the top panel
top_ax = axes[0]
for m, x in zip(MONTHS, MONTH_POS):
    top_ax.text(x, 26.4, m, ha='center', va='center', fontsize=FS, clip_on=False)
for y, x in zip(YEARS, YEAR_POS):
    top_ax.text(x, 36.3, y, ha='center', va='center', fontsize=FS, clip_on=False)

# title and north arrow
title = fig.text(132 / W, 1 - 273 / H, 'ADCP Velocity Vectors', family=['Lato', 'DejaVu Sans'],
                 fontsize=90, ha='left', va='baseline')
north = fig.text(1262 / W, 1 - 95 / H, 'North', family=['Lato', 'DejaVu Sans'], fontstyle='italic',
                 fontsize=40, ha='left', va='baseline')
fig.canvas.draw()
r = fig.canvas.get_renderer()
bb = title.get_window_extent(renderer=r)
title.set_fontsize(90 * 1141 / bb.width)
bb = north.get_window_extent(renderer=r)
north.set_fontsize(40 * 193 / bb.width)

arrow_px = [(1337, 275), (1337, 158), (1316, 158), (1358, 117), (1400, 158), (1378, 158), (1378, 275)]
arrow = Polygon([(x / W, 1 - y / H) for x, y in arrow_px], closed=True, transform=fig.transFigure,
                facecolor='black', edgecolor='black', lw=0.5)
fig.patches.append(arrow)

fig.lines.append(Line2D([1433 / W, 1469 / W], [1 - 1100 / H, 1 - 1120 / H], transform=fig.transFigure,
                        color='#b0b0b0', lw=0.8))

fig.savefig('out.png', dpi=100, facecolor='white')
